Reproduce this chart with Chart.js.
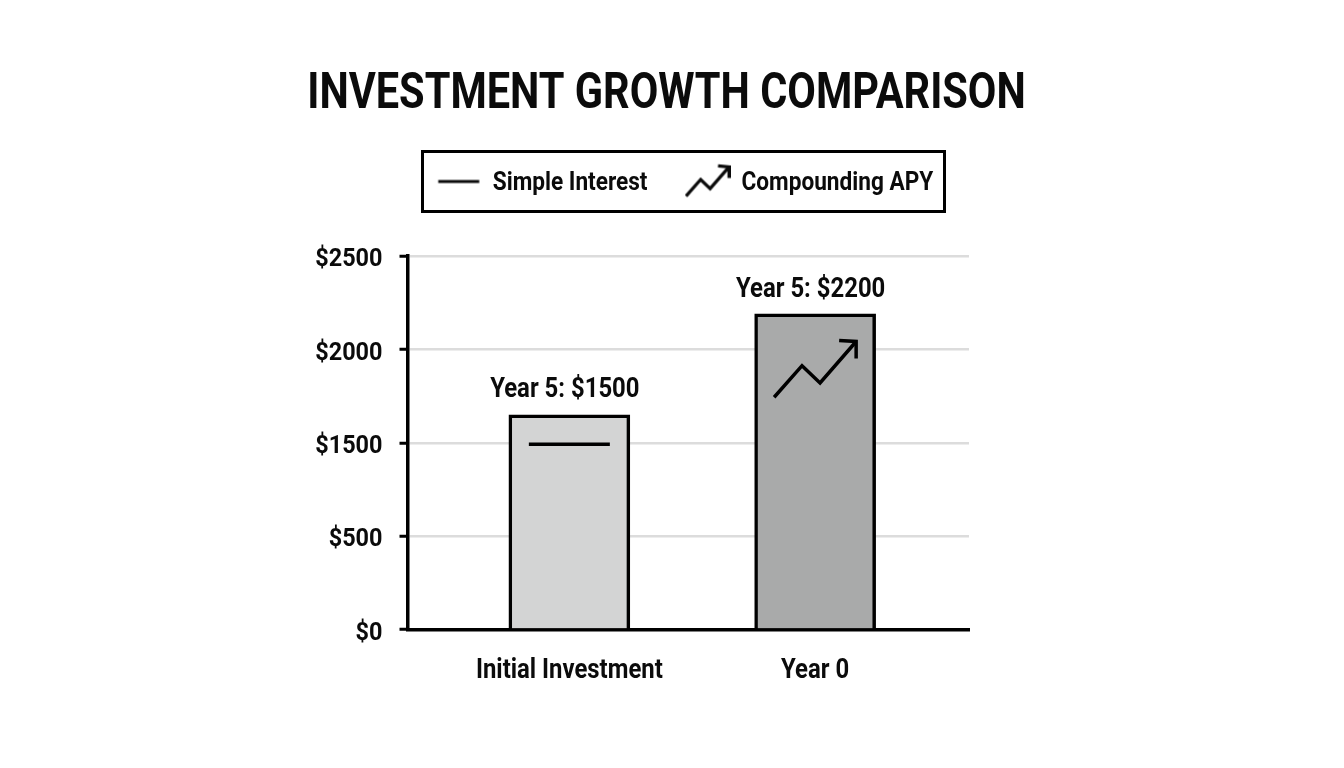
<!DOCTYPE html>
<html>
<head>
<meta charset="utf-8">
<style>html,body{margin:0;padding:0;background:#fff}canvas{display:block}#w{width:1344px;height:768px;position:relative}</style>
<script src="https://cdn.jsdelivr.net/npm/chart.js@4/dist/chart.umd.js"></script>
</head>
<body>
<div id="w"><canvas id="c" width="1344" height="768"></canvas></div>
<script>
const chartTitle = "INVESTMENT GROWTH COMPARISON";
const categories = ["Initial Investment", "Year 0"];
const barValues = [1650, 2190];
const barLabels = ["Year 5: $1500", "Year 5: $2200"];
const barColors = ["#d3d4d4", "#a9aaaa"];
const yTickValues = [0, 500, 1500, 2000, 2500];
const yTickLabels = ["$0", "$500", "$1500", "$2000", "$2500"];
const legendLabels = ["Simple Interest", "Compounding APY"];

const FONT = 'Roboto, sans-serif';
const INK = "#0b0b0b";

// The reference type is a condensed cut: squeeze Roboto horizontally, and sit it on the optical centre.
const canvas = document.getElementById("c");
const rawCtx = canvas.getContext("2d");
const rawFill = rawCtx.fillText.bind(rawCtx), rawMeasure = rawCtx.measureText.bind(rawCtx);
const fontPx = () => parseFloat(rawCtx.font.match(/(\d+(\.\d+)?)px/)[1]);
const squeeze = () => { const s = fontPx(); return s >= 40 ? 0.83 : s === 26 ? 0.87 : 0.885; };
const drop = () => (fontPx() === 26.5 ? 3.5 : 2);
rawCtx.measureText = t => { const m = rawMeasure(t); return { width: m.width * squeeze(), actualBoundingBoxAscent: m.actualBoundingBoxAscent, actualBoundingBoxDescent: m.actualBoundingBoxDescent }; };
rawCtx.fillText = (t, x, y) => rawFill(t, x, y + drop(), rawMeasure(t).width * squeeze());

// The printed axis is evenly spaced at unevenly spaced values
class StopScale extends Chart.LinearScale {
  static id = "stops";
  static defaults = Chart.LinearScale.defaults;
  getPixelForValue(v) {
    const s = yTickValues, n = s.length - 1;
    let i = 0;
    while (i < n - 1 && v > s[i + 1]) i++;
    return this.getPixelForDecimal((i + (v - s[i]) / (s[i + 1] - s[i])) / n);
  }
}
Chart.register(StopScale);

function flatIcon(ctx, cx, cy, w) {
  ctx.beginPath(); ctx.moveTo(cx - w / 2, cy); ctx.lineTo(cx + w / 2, cy); ctx.stroke();
}
function arrowIcon(ctx, cx, cy, k, head) {
  ctx.beginPath();
  ctx.moveTo(cx - k, cy + 0.68 * k);
  ctx.lineTo(cx - 0.32 * k, cy - 0.09 * k);
  ctx.lineTo(cx + 0.12 * k, cy + 0.33 * k);
  ctx.lineTo(cx + k, cy - 0.68 * k);
  ctx.stroke();
  ctx.beginPath();
  ctx.moveTo(cx + k - head, cy - 0.68 * k - 1);
  ctx.lineTo(cx + k, cy - 0.68 * k);
  ctx.lineTo(cx + k, cy - 0.68 * k + head);
  ctx.stroke();
}
function iconCanvas(kind) {
  const c = document.createElement("canvas");
  c.width = 46; c.height = 40;
  const x = c.getContext("2d");
  x.strokeStyle = INK; x.lineWidth = 3.2; x.lineJoin = "miter";
  if (kind === 0) flatIcon(x, 23, 20, 41);
  else arrowIcon(x, 23, 20, 21.5, 11);
  return c;
}
const legendIcons = [iconCanvas(0), iconCanvas(1)];

const dressing = {
  id: "dressing",
  beforeLayout(chart) {
    const l = chart.legend;
    if (!l._patched) {
      const fit = l.fit;
      l.fit = function () { fit.call(this); this.height += 51.5; };
      l._patched = true;
    }
  },
  afterLayout(chart) {
    chart.titleBlock.left = 0; chart.titleBlock.right = 1333;
    chart.legend.left = 0; chart.legend.right = 1371;
  },
  afterDraw(chart) {
    const ctx = chart.ctx, meta = chart.getDatasetMeta(0);
    ctx.save();
    ctx.strokeStyle = "#000"; ctx.lineWidth = 3;
    ctx.strokeRect(422.5, 151.5, 522, 60);
    meta.data.forEach((bar, i) => {
      ctx.fillStyle = INK;
      ctx.font = "bold 27px " + FONT;
      ctx.textAlign = "center"; ctx.textBaseline = "middle";
      ctx.fillText(barLabels[i], bar.x - 4.5, bar.y - 26);
      ctx.strokeStyle = "#000"; ctx.lineWidth = 3.5;
      if (i === 0) flatIcon(ctx, bar.x, bar.y + 29.5, 81);
      else arrowIcon(ctx, bar.x, bar.y + 55.5, 41, 17);
    });
    ctx.restore();
  }
};

new Chart(canvas, {
  type: "bar",
  data: {
    datasets: [{
      data: categories.map((c, i) => ({ x: i, y: barValues[i] })),
      backgroundColor: barColors,
      borderColor: "#000",
      borderWidth: 3.5,
      borderSkipped: "bottom",
      barThickness: 121
    }]
  },
  options: {
    responsive: false,
    animation: false,
    devicePixelRatio: 1,
    layout: { padding: { left: 0, right: 375, top: 0, bottom: 38.5 } },
    plugins: {
      tooltip: { enabled: false },
      title: {
        display: true, text: chartTitle, color: INK,
        font: { family: FONT, size: 50, weight: "bold", lineHeight: 1.2 },
        padding: { top: 63, bottom: 6.5 }
      },
      legend: {
        display: true, position: "top",
        onClick: null,
        labels: {
          usePointStyle: true, pointStyleWidth: 42, padding: 39,
          color: INK, font: { family: FONT, size: 26, weight: "bold" },
          generateLabels: () => legendLabels.map((t, i) => ({
            text: t, pointStyle: legendIcons[i], fontColor: INK, lineWidth: 0,
            datasetIndex: 0, hidden: false
          }))
        }
      }
    },
    scales: {
      x: {
        type: "linear",
        offset: false,
        min: -0.6585, max: 1.626,
        afterBuildTicks: s => { s.ticks = categories.map((c, i) => ({ value: i })); },
        afterFit: s => { s.height = 100; },
        grid: { display: false, drawTicks: false },
        border: { display: true, color: "#000", width: 3.5 },
        ticks: {
          autoSkip: false, maxRotation: 0, color: INK, padding: 24,
          font: { family: FONT, size: 27, weight: "bold" },
          callback: (v, i) => categories[i]
        }
      },
      y: {
        type: "stops",
        min: 0, max: 2500,
        afterBuildTicks: s => { s.ticks = yTickValues.map(v => ({ value: v })); },
        afterFit: s => { s.width = 407.5; },
        grid: { color: "#dcdcdc", lineWidth: 2.5, tickColor: "#000", tickWidth: 3, tickLength: 8 },
        border: { display: true, color: "#000", width: 3.5 },
        ticks: {
          autoSkip: false, color: INK, padding: 17,
          font: { family: FONT, size: 26.5, weight: "bold" },
          callback: (v, i) => yTickLabels[i]
        }
      }
    }
  },
  plugins: [dressing]
});
</script>
</body>
</html>
